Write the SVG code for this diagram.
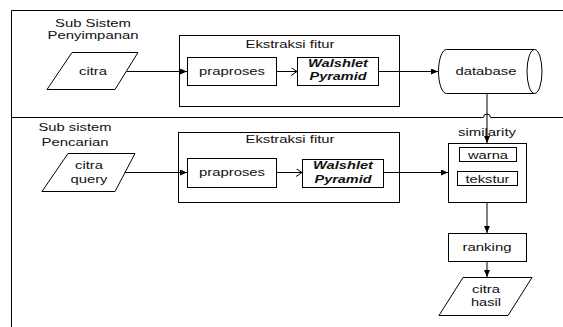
<svg xmlns="http://www.w3.org/2000/svg" width="563" height="327" viewBox="0 0 563 327">
  <style>
    .ln { fill: none; stroke: #000; stroke-width: 1; }
    .bx { fill: #fff; stroke: #000; stroke-width: 1; }
    .t { font-family: "Liberation Sans", Arial, sans-serif; font-size: 11px; fill: #111; text-anchor: middle; }
    .tb { font-family: "Liberation Sans", Arial, sans-serif; font-size: 11px; fill: #111; text-anchor: middle; font-weight: bold; font-style: italic; }
  </style>
  <defs>
    <marker id="fill" markerWidth="7" markerHeight="6" refX="7" refY="3" orient="auto" markerUnits="userSpaceOnUse">
      <path d="M0,0 L7,3 L0,6 Z" fill="#000"/>
    </marker>
    <marker id="open" markerWidth="7" markerHeight="8" refX="6" refY="4" orient="auto" markerUnits="userSpaceOnUse">
      <path d="M0,0 L6,4 L0,8" fill="none" stroke="#000" stroke-width="1"/>
    </marker>
  </defs>
  <rect width="563" height="327" fill="#fff"/>

  <!-- frame and section divider -->
  <g id="frame">
    <path class="ln" d="M11.5,327 V10.5 H563"/>
    <path class="ln" d="M11.5,117.5 H483.5 A3.5,3.5 0 0 1 490.5,117.5 H563"/>
  </g>

  <!-- storage subsystem -->
  <g id="label-penyimpanan">
    <text class="t" x="93" y="26.5" textLength="76" lengthAdjust="spacingAndGlyphs">Sub Sistem</text>
    <text class="t" x="93" y="39" textLength="91" lengthAdjust="spacingAndGlyphs">Penyimpanan</text>
  </g>
  <g id="citra">
    <polygon class="bx" points="72,52.5 138,52.5 115,89.5 47,89.5"/>
    <text class="t" x="93" y="75" textLength="28" lengthAdjust="spacingAndGlyphs">citra</text>
  </g>
  <g id="ekstraksi-1">
    <rect class="bx" x="179.5" y="35.5" width="220" height="71"/>
    <text class="t" x="290" y="48" textLength="89" lengthAdjust="spacingAndGlyphs">Ekstraksi fitur</text>
  </g>
  <g id="praproses-1">
    <rect class="bx" x="187.5" y="57.5" width="89" height="28"/>
    <text class="t" x="232" y="75" textLength="66" lengthAdjust="spacingAndGlyphs">praproses</text>
  </g>
  <g id="walshlet-1">
    <rect class="bx" x="297.5" y="57.5" width="81" height="28"/>
    <text class="tb" x="338" y="67" textLength="60" lengthAdjust="spacingAndGlyphs">Walshlet</text>
    <text class="tb" x="338" y="80" textLength="57" lengthAdjust="spacingAndGlyphs">Pyramid</text>
  </g>
  <g id="database">
    <path class="bx" d="M446.5,49.5 H534.5 A7.5,22 0 0 1 534.5,93.5 H446.5 A8,22 0 0 1 446.5,49.5 Z"/>
    <path class="ln" d="M534.5,49.5 A7.5,22 0 0 0 534.5,93.5"/>
    <text class="t" x="486" y="75" textLength="61" lengthAdjust="spacingAndGlyphs">database</text>
  </g>

  <!-- retrieval subsystem -->
  <g id="label-pencarian">
    <text class="t" x="75" y="131" textLength="73" lengthAdjust="spacingAndGlyphs">Sub sistem</text>
    <text class="t" x="75" y="146" textLength="67" lengthAdjust="spacingAndGlyphs">Pencarian</text>
  </g>
  <g id="citra-query">
    <polygon class="bx" points="68,153.5 135,153.5 115,191.5 42,191.5"/>
    <text class="t" x="89" y="169" textLength="28" lengthAdjust="spacingAndGlyphs">citra</text>
    <text class="t" x="89" y="183" textLength="37" lengthAdjust="spacingAndGlyphs">query</text>
  </g>
  <g id="ekstraksi-2">
    <rect class="bx" x="178.5" y="132.5" width="221" height="70"/>
    <text class="t" x="290" y="143" textLength="89" lengthAdjust="spacingAndGlyphs">Ekstraksi fitur</text>
  </g>
  <g id="praproses-2">
    <rect class="bx" x="187.5" y="158.5" width="89" height="29"/>
    <text class="t" x="232" y="176" textLength="66" lengthAdjust="spacingAndGlyphs">praproses</text>
  </g>
  <g id="walshlet-2">
    <rect class="bx" x="302.5" y="159.5" width="81" height="28"/>
    <text class="tb" x="343" y="169" textLength="60" lengthAdjust="spacingAndGlyphs">Walshlet</text>
    <text class="tb" x="343" y="183" textLength="57" lengthAdjust="spacingAndGlyphs">Pyramid</text>
  </g>
  <g id="similarity">
    <text class="t" x="487" y="136" textLength="58" lengthAdjust="spacingAndGlyphs">similarity</text>
    <rect class="bx" x="448.5" y="143.5" width="78" height="59"/>
  </g>
  <g id="warna">
    <rect class="bx" x="459.5" y="147.5" width="57" height="14"/>
    <text class="t" x="488" y="158.5" textLength="40" lengthAdjust="spacingAndGlyphs">warna</text>
  </g>
  <g id="tekstur">
    <rect class="bx" x="457.5" y="171.5" width="60" height="14"/>
    <text class="t" x="487.5" y="182.5" textLength="44" lengthAdjust="spacingAndGlyphs">tekstur</text>
  </g>
  <g id="ranking">
    <rect class="bx" x="448.5" y="233.5" width="78" height="28"/>
    <text class="t" x="487" y="251" textLength="49" lengthAdjust="spacingAndGlyphs">ranking</text>
  </g>
  <g id="citra-hasil">
    <polygon class="bx" points="463,277.5 532,277.5 508,315.5 439,315.5"/>
    <text class="t" x="486" y="293" textLength="28" lengthAdjust="spacingAndGlyphs">citra</text>
    <text class="t" x="486" y="306" textLength="30" lengthAdjust="spacingAndGlyphs">hasil</text>
  </g>

  <!-- connectors -->
  <g id="connectors">
    <line class="ln" x1="127" y1="71.5" x2="187" y2="71.5" marker-end="url(#fill)"/>
    <line class="ln" x1="276.5" y1="71.5" x2="297" y2="71.5" marker-end="url(#open)"/>
    <line class="ln" x1="378.5" y1="71.5" x2="438" y2="71.5" marker-end="url(#fill)"/>
    <line class="ln" x1="487" y1="93.5" x2="487" y2="143" marker-end="url(#fill)"/>
    <line class="ln" x1="125" y1="172.5" x2="187" y2="172.5" marker-end="url(#fill)"/>
    <line class="ln" x1="276.5" y1="172.5" x2="302" y2="172.5" marker-end="url(#open)"/>
    <line class="ln" x1="383.5" y1="172.5" x2="448" y2="172.5" marker-end="url(#fill)"/>
    <line class="ln" x1="487" y1="202.5" x2="487" y2="233" marker-end="url(#fill)"/>
    <line class="ln" x1="487" y1="261.5" x2="487" y2="277" marker-end="url(#fill)"/>
  </g>
</svg>
